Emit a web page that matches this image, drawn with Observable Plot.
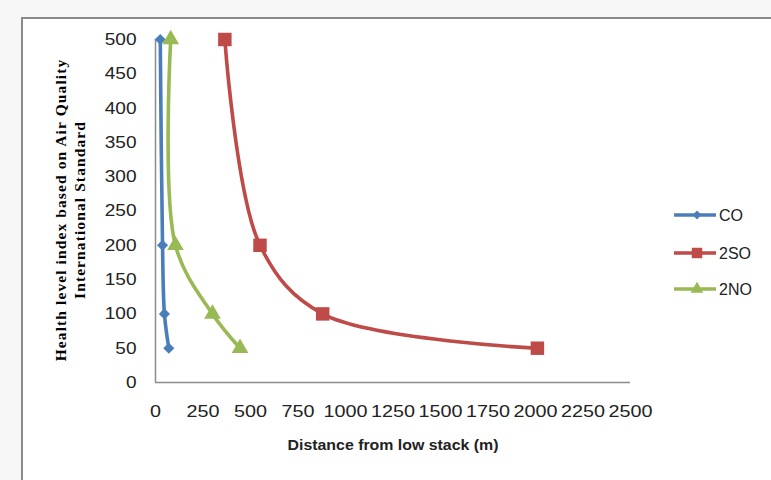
<!DOCTYPE html>
<html>
<head>
<meta charset="utf-8">
<script src="https://cdn.jsdelivr.net/npm/d3@7"></script>
<script src="https://cdn.jsdelivr.net/npm/@observablehq/plot@0.6"></script>
<style>
  html, body { margin: 0; padding: 0; background: #f7f7f7; width: 771px; height: 480px; overflow: hidden; }
  #frame { position: absolute; left: 21px; top: 17px; width: 760px; height: 470px; background: #fff; border: 2px solid #8a8a8a; box-sizing: border-box; }
  #chart { position: absolute; left: 0; top: 0; }
  #legend { position: absolute; left: 0; top: 0; }
</style>
</head>
<body>
<div id="frame"></div>
<div id="chart"></div>
<svg id="legend" width="771" height="480"></svg>
<script>
// ---- data ----
const pollutants = ["CO", "2SO", "2NO"];
const healthIndex = [500, 200, 100, 50];
const coDistance = [25, 37, 47, 70];
const so2Distance = [365, 550, 880, 2010];
const no2Distance = [80, 105, 300, 445];
const xTicks = [0, 250, 500, 750, 1000, 1250, 1500, 1750, 2000, 2250, 2500];
const yTicks = [0, 50, 100, 150, 200, 250, 300, 350, 400, 450, 500];
const xLabel = "Distance from low stack (m)";
const yLabel = "Health level index based on Air Quality\nInternational Standard";

const colors = {"CO": "#4A7EBB", "2SO": "#BE4B48", "2NO": "#98B954"};
const symbols = {"CO": "diamond2", "2SO": "square", "2NO": "triangle"};
const radii = {"CO": 5, "2SO": 7.6, "2NO": 6.2};

const distances = {"CO": coDistance, "2SO": so2Distance, "2NO": no2Distance};
const rows = pollutants.flatMap(p => healthIndex.map((h, i) => ({series: p, x: distances[p][i], y: h})));

const marks = [
  Plot.ruleY([0], {stroke: "#8c8c8c", strokeWidth: 1.5}),
  Plot.ruleX([0], {y1: 0, y2: 500, stroke: "#8c8c8c", strokeWidth: 1.5}),
  Plot.axisX({ticks: xTicks, tickSize: 0, tickPadding: 22, fontSize: 17, tickFormat: d => String(d), label: null}),
  Plot.axisY({ticks: yTicks, tickSize: 0, tickPadding: 19, fontSize: 17, tickFormat: d => String(d), label: null}),
];
for (const p of pollutants) {
  const d = rows.filter(r => r.series === p);
  marks.push(Plot.line(d, {x: "x", y: "y", stroke: colors[p], strokeWidth: 3.6, curve: "catmull-rom"}));
  marks.push(Plot.dot(d, {x: "x", y: "y", fill: colors[p], stroke: "none", symbol: () => symbols[p], r: radii[p]}));
}
marks.push(Plot.text([yLabel], {frameAnchor: "left", textAnchor: "middle", dx: -86, dy: -1, rotate: -90, fontSize: 15.5, fontWeight: "bold", fontFamily: "Liberation Serif", lineHeight: 1.25, fill: "#000"}));
marks.push(Plot.text([xLabel], {frameAnchor: "bottom", dy: 67, fontSize: 15, fontWeight: "bold", fontFamily: "Liberation Sans", fill: "#222"}));

const chart = Plot.plot({
  width: 771,
  height: 480,
  marginLeft: 155,
  marginRight: 141,
  marginTop: 39,
  marginBottom: 98,
  x: {domain: [0, 2500]},
  y: {domain: [0, 500]},
  style: {background: "transparent", fontFamily: "Liberation Sans", color: "#222"},
  marks
});
document.getElementById("chart").appendChild(chart);

// widen tick labels to the reference's broad digits
d3.select(chart).selectAll('g[aria-label="x-axis tick label"] text').each(function() {
  const n = this.textContent.length;
  d3.select(this).attr("textLength", n * 11.0).attr("lengthAdjust", "spacingAndGlyphs");
});
d3.select(chart).selectAll('g[aria-label="y-axis tick label"] text').each(function() {
  const n = this.textContent.length;
  d3.select(this).attr("textLength", n * 10.6).attr("lengthAdjust", "spacingAndGlyphs");
});
d3.select(chart).selectAll('g[aria-label="text"] text').filter(function() { return this.textContent === xLabel; })
  .attr("textLength", 211).attr("lengthAdjust", "spacingAndGlyphs");
d3.select(chart).selectAll('g[aria-label="text"] text').filter(function() { return this.textContent.startsWith("Health"); })
  .attr("letter-spacing", "1.1px");

// ---- legend ----
const leg = d3.select("#legend");
const legY = [215, 253, 289];
pollutants.forEach((p, i) => {
  const g = leg.append("g").attr("transform", `translate(0,${legY[i]})`);
  g.append("line").attr("x1", 674).attr("x2", 716).attr("y1", 0).attr("y2", 0)
    .attr("stroke", colors[p]).attr("stroke-width", 3.5);
  const symType = {diamond2: d3.symbolDiamond2, square: d3.symbolSquare, triangle: d3.symbolTriangle}[symbols[p]];
  const size = {"CO": 50, "2SO": 110, "2NO": 70}[p];
  g.append("path").attr("d", d3.symbol(symType, size)()).attr("transform", "translate(697,0)").attr("fill", colors[p]);
  g.append("text").attr("x", 719).attr("y", 0).attr("dy", "0.35em")
    .attr("font-family", "Liberation Sans").attr("font-size", 16).attr("fill", "#222").text(p);
});
</script>
</body>
</html>
